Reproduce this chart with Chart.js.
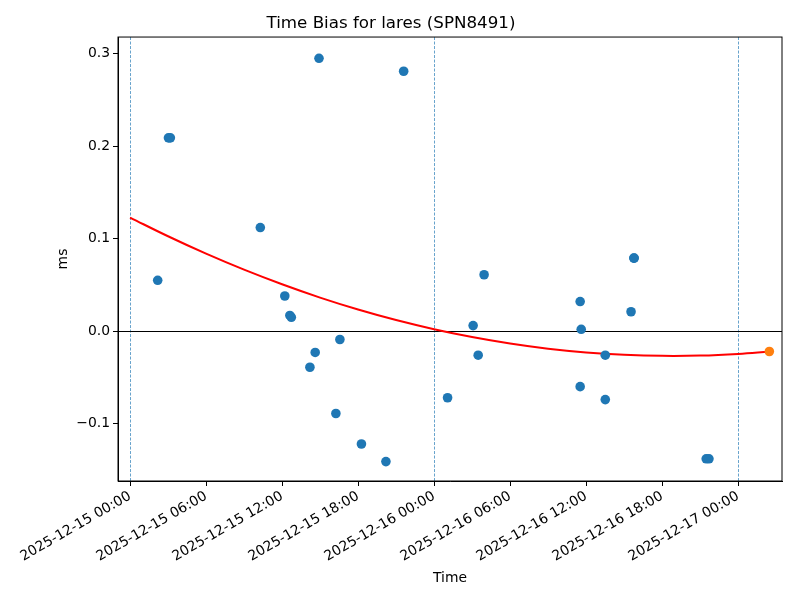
<!DOCTYPE html>
<html>
<head>
<meta charset="utf-8">
<script src="https://cdn.jsdelivr.net/npm/chart.js@4.4.1/dist/chart.umd.min.js"></script>
<style>
  html, body { margin: 0; padding: 0; background: #fff; }
  #wrap { width: 800px; height: 600px; }
</style>
</head>
<body>
<div id="wrap"><canvas id="biasChart" width="800" height="600"></canvas></div>
<script>
// Measured time bias (ms) per pass
const passTimes = [
    "2025-12-15 02:11", "2025-12-15 03:02", "2025-12-15 03:11", "2025-12-15 10:17",
    "2025-12-15 12:13", "2025-12-15 12:37", "2025-12-15 12:44", "2025-12-15 14:12",
    "2025-12-15 14:37", "2025-12-15 14:55", "2025-12-15 16:15", "2025-12-15 16:34",
    "2025-12-15 18:16", "2025-12-15 20:12", "2025-12-15 21:36", "2025-12-16 01:04",
    "2025-12-16 03:05", "2025-12-16 03:29", "2025-12-16 03:57", "2025-12-16 11:32",
    "2025-12-16 11:37", "2025-12-16 11:32", "2025-12-16 13:31", "2025-12-16 13:31",
    "2025-12-16 15:33", "2025-12-16 15:46", "2025-12-16 15:48", "2025-12-16 21:29",
    "2025-12-16 21:42"
];
const passBias = [
    0.055, 0.209, 0.209, 0.112,
    0.038, 0.017, 0.015, -0.039,
    -0.023, 0.295, -0.089, -0.009,
    -0.122, -0.141, 0.281, -0.072,
    0.006, -0.026, 0.061, 0.032,
    0.002, -0.060, -0.026, -0.074,
    0.021, 0.079, 0.079, -0.138,
    -0.138
];

// Predicted point
const predTimes = ["2025-12-17 02:28"];
const predBias = [-0.022];

// Fitted trend curve
const fitTimes = [
    "2025-12-15 00:00", "2025-12-15 03:00", "2025-12-15 06:00", "2025-12-15 09:00",
    "2025-12-15 12:00", "2025-12-15 15:00", "2025-12-15 18:00", "2025-12-15 21:00",
    "2025-12-16 00:00", "2025-12-16 03:00", "2025-12-16 06:00", "2025-12-16 09:00",
    "2025-12-16 12:00", "2025-12-16 15:00", "2025-12-16 18:00", "2025-12-16 21:00",
    "2025-12-17 00:00", "2025-12-17 02:28"
];
const fitBias = [
    0.1228, 0.1026, 0.0838, 0.0665,
    0.0507, 0.0363, 0.0234, 0.0120,
    0.0021, -0.0064, -0.0134, -0.0190,
    -0.0230, -0.0255, -0.0267, -0.0264,
    -0.0246, -0.0220
];

// Day boundaries (dashed) and reference level
const dayLines = ["2025-12-15 00:00", "2025-12-16 00:00", "2025-12-17 00:00"];
const zeroLevel = 0;

const yTicks = [-0.1, 0.0, 0.1, 0.2, 0.3];

const BASE = Date.UTC(2025, 11, 15, 0, 0);

function toHours(s) {
    const [d, t] = s.split(" ");
    const [Y, M, D] = d.split("-").map(Number);
    const [h, m] = t.split(":").map(Number);
    return (Date.UTC(Y, M - 1, D, h, m) - BASE) / 3600000;
}

function fmtHours(v) {
    const dt = new Date(BASE + v * 3600000);
    const p = n => String(n).padStart(2, "0");
    return dt.getUTCFullYear() + "-" + p(dt.getUTCMonth() + 1) + "-" + p(dt.getUTCDate()) +
        " " + p(dt.getUTCHours()) + ":" + p(dt.getUTCMinutes());
}

function pts(times, vals) {
    return times.map((t, i) => ({ x: toHours(t), y: vals[i] }));
}

const FONT = "'DejaVu Sans', sans-serif";

// lines behind the marks plus the full axes frame
const refLines = {
    id: "refLines",
    beforeDatasetsDraw(chart) {
        const { ctx, chartArea: a, scales } = chart;
        ctx.save();
        ctx.beginPath();
        ctx.rect(a.left, a.top, a.right - a.left, a.bottom - a.top);
        ctx.clip();
        ctx.strokeStyle = "rgba(31,119,180,0.85)";
        ctx.lineWidth = 0.8;
        ctx.setLineDash([3, 1.5]);
        dayLines.forEach(d => {
            const x = Math.round(scales.x.getPixelForValue(toHours(d))) + 0.5;
            ctx.beginPath();
            ctx.moveTo(x, a.top);
            ctx.lineTo(x, a.bottom);
            ctx.stroke();
        });
        ctx.setLineDash([]);
        ctx.strokeStyle = "#000";
        ctx.lineWidth = 1;
        const y = Math.round(scales.y.getPixelForValue(zeroLevel)) + 0.5;
        ctx.beginPath();
        ctx.moveTo(a.left, y);
        ctx.lineTo(a.right, y);
        ctx.stroke();
        ctx.restore();
    },
    afterDraw(chart) {
        const { ctx, chartArea: a } = chart;
        ctx.save();
        ctx.strokeStyle = "#000";
        ctx.lineWidth = 1;
        ctx.strokeRect(a.left, a.top, a.right - a.left, a.bottom - a.top);
        ctx.restore();
    }
};

new Chart(document.getElementById("biasChart"), {
    type: "scatter",
    data: {
        datasets: [
            {
                label: "bias",
                data: pts(passTimes, passBias),
                backgroundColor: "#1f77b4",
                borderWidth: 0,
                pointRadius: 4.8
            },
            {
                label: "prediction",
                data: pts(predTimes, predBias),
                backgroundColor: "#ff7f0e",
                borderWidth: 0,
                pointRadius: 4.8
            },
            {
                label: "fit",
                type: "line",
                data: pts(fitTimes, fitBias),
                borderColor: "#ff0000",
                borderWidth: 2,
                pointRadius: 0,
                tension: 0.4,
                fill: false
            }
        ]
    },
    options: {
        responsive: false,
        animation: false,
        devicePixelRatio: 1,
        layout: { padding: { left: 0, right: 18, top: 0, bottom: 0 } },
        plugins: {
            legend: { display: false },
            tooltip: { enabled: false },
            title: {
                display: true,
                text: "Time Bias for lares (SPN8491)",
                color: "#000",
                font: { family: FONT, size: 16.7, weight: "normal" },
                padding: { top: 14, bottom: 3 }
            }
        },
        scales: {
            x: {
                type: "linear",
                min: toHours("2025-12-14 23:03"),
                max: toHours("2025-12-17 03:28"),
                border: { display: true, color: "#000", width: 1 },
                grid: { drawOnChartArea: false, drawTicks: true, tickLength: 5, color: "#000" },
                ticks: {
                    stepSize: 6,
                    includeBounds: false,
                    autoSkip: false,
                    maxRotation: 30,
                    minRotation: 30,
                    padding: 2,
                    color: "#000",
                    font: { family: FONT, size: 13.9 },
                    callback: v => fmtHours(v)
                },
                title: {
                    display: true,
                    text: "Time",
                    color: "#000",
                    font: { family: FONT, size: 13.9 },
                    padding: { top: 4, bottom: 13 }
                },
                afterFit(scale) { scale.height = 119; }
            },
            y: {
                min: -0.162,
                max: 0.318,
                border: { display: true, color: "#000", width: 1 },
                grid: { drawOnChartArea: false, drawTicks: true, tickLength: 5, color: "#000" },
                afterBuildTicks(scale) { scale.ticks = yTicks.map(v => ({ value: v })); },
                ticks: {
                    padding: 3,
                    color: "#000",
                    font: { family: FONT, size: 13.9 },
                    callback: v => (Math.abs(v) < 1e-9 ? "0.0" : v.toFixed(1).replace("-", "\u2212"))
                },
                title: {
                    display: true,
                    text: "ms",
                    color: "#000",
                    font: { family: FONT, size: 13.9 },
                    padding: { top: 55, bottom: 4 }
                },
                afterFit(scale) { scale.width = 118; }
            }
        }
    },
    plugins: [refLines]
});
</script>
</body>
</html>
